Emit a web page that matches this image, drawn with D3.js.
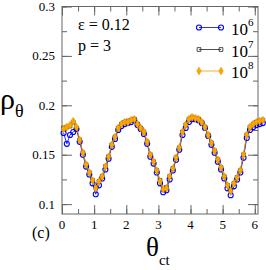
<!DOCTYPE html>
<html>
<head>
<meta charset="utf-8">
<script src="https://cdn.jsdelivr.net/npm/d3@7"></script>
</head>
<body style="margin:0">
<script>
const WIDTH  = 266;
const HEIGHT = 270;
const LEFT = 62, RIGHT = 258, TOP = 6.5, BOTTOM = 214;
const FONT = '"Liberation Serif"';

// bin centres of theta_ct
const theta = d3.range(63).map(i => +(0.05 + 0.1 * i).toFixed(2));

// rho_theta
const rho1e6 = [0.172,0.161,0.170,0.173,0.176,0.163,0.150,0.138,0.130,0.121,0.110,0.119,0.126,0.135,0.146,0.158,0.166,0.175,0.179,0.181,0.182,0.183,0.185,0.180,0.176,0.171,0.161,0.148,0.141,0.132,0.121,0.112,0.114,0.125,0.134,0.145,0.155,0.170,0.177,0.183,0.186,0.186,0.185,0.182,0.177,0.169,0.160,0.152,0.143,0.135,0.126,0.116,0.109,0.118,0.125,0.132,0.147,0.167,0.175,0.178,0.180,0.181,0.182];
const rho1e7 = [0.177,0.178,0.179,0.183,0.177,0.165,0.152,0.140,0.132,0.124,0.117,0.123,0.128,0.138,0.148,0.160,0.168,0.177,0.181,0.183,0.184,0.185,0.186,0.181,0.177,0.173,0.163,0.150,0.143,0.134,0.124,0.115,0.117,0.128,0.136,0.147,0.157,0.173,0.180,0.186,0.188,0.187,0.186,0.183,0.178,0.170,0.162,0.154,0.145,0.137,0.128,0.119,0.114,0.121,0.127,0.134,0.150,0.170,0.178,0.181,0.183,0.184,0.185];
const rho1e8 = [0.176,0.178,0.180,0.184,0.178,0.165,0.152,0.140,0.132,0.124,0.116,0.123,0.128,0.138,0.148,0.160,0.168,0.177,0.181,0.183,0.183,0.185,0.186,0.181,0.177,0.173,0.163,0.150,0.143,0.134,0.123,0.115,0.116,0.128,0.136,0.147,0.157,0.173,0.180,0.186,0.188,0.187,0.186,0.183,0.178,0.170,0.162,0.154,0.145,0.137,0.128,0.119,0.113,0.121,0.127,0.134,0.150,0.170,0.178,0.181,0.183,0.184,0.185];

const seriesNames = ["10", "10", "10"];
const seriesExp   = ["6", "7", "8"];

const xTicks = [0, 1, 2, 3, 4, 5, 6];
const yTicks = [0.1, 0.15, 0.2, 0.25, 0.3];
const yTickLabels = ["0.1", "0.15", "0.2", "0.25", "0.3"];

const svg = d3.select("body").append("svg")
    .attr("width", WIDTH)
    .attr("height", HEIGHT);

const xScale = d3.scaleLinear().domain([0, 6.1]).range([LEFT, RIGHT]);
const yScale = d3.scaleLinear().domain([0.09, 0.3]).range([BOTTOM, TOP]);

// text helper, font set on every element
function label(parent, x, y, size) {
  return parent.append("text")
      .attr("x", x).attr("y", y)
      .style("font-family", FONT)
      .style("font-size", size + "px");
}

// frame + inward ticks on all four sides
const AX = "#666";
function ticksInward(axisGen, tr) {
  const g = svg.append("g").attr("transform", tr).call(axisGen);
  g.selectAll(".domain").remove();
  g.selectAll("line").attr("stroke", AX);
  g.selectAll("text").remove();
  return g;
}
const xMinor = d3.range(0, 6.1, 0.5);
const yMinor = d3.range(0.1, 0.3001, 0.025);

ticksInward(d3.axisTop(xScale).tickValues(xMinor).tickSize(5), `translate(0,${BOTTOM})`);
ticksInward(d3.axisTop(xScale).tickValues(xTicks).tickSize(9), `translate(0,${BOTTOM})`);
ticksInward(d3.axisBottom(xScale).tickValues(xMinor).tickSize(5), `translate(0,${TOP})`);
ticksInward(d3.axisBottom(xScale).tickValues(xTicks).tickSize(9), `translate(0,${TOP})`);
ticksInward(d3.axisRight(yScale).tickValues(yMinor).tickSize(5), `translate(${LEFT},0)`);
ticksInward(d3.axisRight(yScale).tickValues(yTicks).tickSize(10), `translate(${LEFT},0)`);
ticksInward(d3.axisLeft(yScale).tickValues(yMinor).tickSize(5), `translate(${RIGHT},0)`);
ticksInward(d3.axisLeft(yScale).tickValues(yTicks).tickSize(10), `translate(${RIGHT},0)`);

svg.append("rect")
    .attr("x", LEFT).attr("y", TOP)
    .attr("width", RIGHT - LEFT).attr("height", BOTTOM - TOP)
    .attr("fill", "none").attr("stroke", AX).attr("stroke-width", 1);

// tick labels
xTicks.forEach(d => {
  label(svg, xScale(d), 229, 13).attr("text-anchor", "middle").text(d);
});
yTicks.forEach((d, i) => {
  label(svg, 55, yScale(d) + 4.5, 13).attr("text-anchor", "end").text(yTickLabels[i]);
});

// axis titles
const yLab = label(svg, 0, 109, 30);
yLab.append("tspan").text("ρ");
yLab.append("tspan").style("font-size", "18px").attr("dy", 8).text("θ");

const xLab = label(svg, 146, 256, 27);
xLab.append("tspan").text("θ");
xLab.append("tspan").style("font-size", "15px").attr("dy", 9).text("ct");

label(svg, 32, 238, 16).text("(c)");
label(svg, 78, 30, 16).text("ε = 0.12");
label(svg, 78, 51, 16).text("p = 3");

// series
const series = [
  { vals: rho1e6, color: "#0000ff", fill: "none", sym: d3.symbolCircle, size: 20, sw: 1.1 },
  { vals: rho1e7, color: "#222", fill: "none", sym: d3.symbolSquare, size: 14, sw: 0.8 },
  { vals: rho1e8, color: "#f0a000", fill: "#ffa500", sym: d3.symbolDiamond, size: 16, sw: 0.8 }
];

const line = d3.line().x(d => xScale(d[0])).y(d => yScale(d[1]));

series.forEach(s => {
  const pts = theta.map((t, i) => [t, s.vals[i]]);
  svg.append("path").datum(pts)
      .attr("d", line)
      .attr("fill", "none").attr("stroke", s.color).attr("stroke-width", 0.8);
  svg.append("g").selectAll("path").data(pts).enter().append("path")
      .attr("d", d3.symbol().type(s.sym).size(s.size))
      .attr("transform", d => `translate(${xScale(d[0])},${yScale(d[1])})`)
      .attr("fill", s.fill).attr("stroke", s.color).attr("stroke-width", s.sw);
});

// legend
const legY = [27.5, 49.5, 71];
series.forEach((s, i) => {
  const g = svg.append("g");
  g.append("line").attr("x1", 199).attr("x2", 221).attr("y1", legY[i]).attr("y2", legY[i])
      .attr("stroke", s.color).attr("stroke-width", 0.8);
  [199, 221].forEach(x => {
    g.append("path").attr("d", d3.symbol().type(s.sym).size(s.size))
        .attr("transform", `translate(${x},${legY[i]})`)
        .attr("fill", s.fill).attr("stroke", s.color).attr("stroke-width", s.sw);
  });
  const t = label(g, 231, legY[i] + 7, 17);
  t.append("tspan").text(seriesNames[i]);
  t.append("tspan").style("font-size", "11px").attr("dy", -9).text(seriesExp[i]);
});
</script>
</body>
</html>
